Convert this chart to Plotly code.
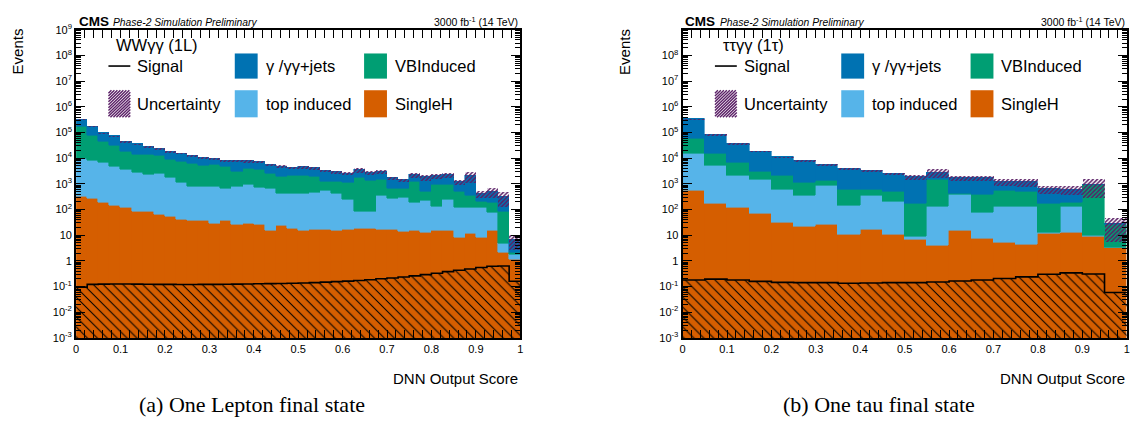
import numpy as np
import plotly.graph_objects as go

# ---------------- data: One Lepton final state (WWγγ 1L), 40 bins ----------------
n_bins_1l = 40
singleH_1l = [308, 274, 188, 141, 115, 79, 79, 64, 51, 40,
              36, 36, 27, 38, 25, 27, 26, 15, 23, 18.5,
              15, 16, 16, 15, 17, 18.5, 18.5, 16, 17, 14,
              15, 12, 15, 15, 8.2, 11, 8.2, 14.7, 2.0, 1.1]
topind_1l = [9100, 7900, 6500, 4400, 3300, 2700, 2100, 2300, 1700, 1030,
             766, 766, 775, 617, 732, 900, 709, 621, 389, 394,
             397, 433, 503, 397, 220, 60, 60, 320, 235, 277,
             173, 206, 118, 215, 114, 111, 114, 57, 2.6, 0.6]
vbind_1l = [153000, 64000, 36000, 27000, 15000, 11000, 11000, 10000, 6900, 6400,
            5300, 4200, 4500, 3900, 2200, 3000, 2700, 1900, 1500, 1600,
            1680, 1460, 650, 760, 833, 1580, 1230, 1090, 384, 364,
            1050, 272, 794, 697, 354, 214, 83, 116, 74, 0.3]
gjets_1l = [162000, 99000, 53000, 40000, 25000, 21000, 15000, 11000, 9200, 8000,
            6500, 5600, 4150, 3600, 4750, 3760, 3600, 3200, 2900, 2300,
            2350, 2280, 2060, 1790, 1490, 1760, 1480, 1530, 1020, 775,
            970, 1320, 1100, 1280, 694, 1690, 207, 302, 229, 4.7]
signal_1l = [0.095, 0.122, 0.124, 0.125, 0.125, 0.124, 0.123, 0.122, 0.121, 0.12,
             0.12, 0.121, 0.122, 0.123, 0.124, 0.126, 0.128, 0.13, 0.132, 0.135,
             0.138, 0.142, 0.148, 0.155, 0.162, 0.172, 0.185, 0.2, 0.215, 0.235,
             0.26, 0.29, 0.33, 0.38, 0.43, 0.48, 0.55, 0.62, 0.63, 0.16]
unc_rel_1l = [0.06, 0.06, 0.06, 0.06, 0.06, 0.06, 0.07, 0.07, 0.07, 0.08,
              0.08, 0.08, 0.08, 0.09, 0.1, 0.1, 0.1, 0.1, 0.11, 0.11,
              0.12, 0.12, 0.12, 0.13, 0.13, 0.2, 0.2, 0.15, 0.15, 0.13,
              0.22, 0.25, 0.25, 0.22, 0.18, 0.45, 0.3, 0.4, 0.6, 0.6]

# ---------------- data: One tau final state (ττγγ 1τ), 20 bins ----------------
n_bins_1t = 20
singleH_1t = [551, 173, 112, 68, 30, 21, 26, 10, 17, 10.7,
              6.7, 4.0, 15, 7.3, 5.0, 4.3, 11, 12, 9, 3.24]
topind_1t = [14000, 4800, 1920, 1360, 570, 315, 849, 131, 319, 188,
             2.3, 129, 351, 65, 128, 129, 1.7, 121, 0.5, 0.1]
vbind_1t = [42000, 9600, 4600, 1530, 1490, 804, 475, 442, 230, 277,
            154, 1300, 46, 316, 418, 343, 160, 55, 890, 21.4]
gjets_1t = [277000, 68000, 30000, 15400, 8800, 6800, 4250, 3370, 2660, 2080,
            1650, 1360, 1250, 1270, 689, 694, 463, 412, 50, 2.5]
signal_1t = [0.179, 0.195, 0.179, 0.159, 0.146, 0.142, 0.142, 0.134, 0.138, 0.142,
             0.142, 0.15, 0.164, 0.179, 0.206, 0.239, 0.30, 0.34, 0.31, 0.059]
unc_rel_1t = [0.07, 0.07, 0.07, 0.07, 0.07, 0.08, 0.08, 0.09, 0.1, 0.1,
              0.22, 0.38, 0.23, 0.23, 0.3, 0.33, 0.33, 0.38, 0.7, 0.8]

y_tick_exp = list(range(-3, 10))
y_tick_text = {-3: "10<sup>-3</sup>", -2: "10<sup>-2</sup>", -1: "10<sup>-1</sup>", 0: "1", 1: "10",
               2: "10<sup>2</sup>", 3: "10<sup>3</sup>", 4: "10<sup>4</sup>", 5: "10<sup>5</sup>",
               6: "10<sup>6</sup>", 7: "10<sup>7</sup>", 8: "10<sup>8</sup>", 9: "10<sup>9</sup>"}
x_tick_vals = [0, 0.1, 0.2, 0.3, 0.4, 0.5, 0.6, 0.7, 0.8, 0.9, 1.0]
x_tick_text = ["0", "0.1", "0.2", "0.3", "0.4", "0.5", "0.6", "0.7", "0.8", "0.9", "1"]

C_GJ = "#0072b2"
C_VB = "#009e73"
C_TOP = "#56b4e9"
C_SH = "#d55e00"
C_UNC = "#5a1f66"

W, H = 1136, 430
def px(x):
    return x / W
def py(y):
    return 1 - y / H

fig = go.Figure()

def add_panel(nb, sh, top, vb, gj, sig, unc, xa, ya, ya_sig, ya_unc):
    edges = np.linspace(0, 1, nb + 1)
    width = edges[1] - edges[0]
    centers = edges[:-1] + width / 2
    for vals, col in [(sh, C_SH), (top, C_TOP), (vb, C_VB), (gj, C_GJ)]:
        fig.add_trace(go.Bar(x=centers, y=vals, width=width, xaxis=xa, yaxis=ya,
                             marker=dict(color=col, line=dict(color=col, width=0.6))))
    total = np.array(sh) + np.array(top) + np.array(vb) + np.array(gj)
    u = np.array(unc)
    fig.add_trace(go.Bar(x=centers, y=2 * u * total, base=total * (1 - u), width=width,
                         xaxis=xa, yaxis=ya_unc,
                         marker=dict(color="rgba(0,0,0,0)", line=dict(width=0),
                                     pattern=dict(shape="/", fgcolor=C_UNC, fgopacity=1, size=3,
                                                  solidity=0.5, fillmode="overlay"))))
    fig.add_trace(go.Bar(x=centers, y=sig, width=width, xaxis=xa, yaxis=ya_sig,
                         marker=dict(color="rgba(0,0,0,0)", line=dict(width=0),
                                     pattern=dict(shape="\\", fgcolor="black", fgopacity=1, size=7,
                                                  solidity=0.15, fillmode="overlay"))))
    fig.add_trace(go.Scatter(x=edges, y=list(sig) + [sig[-1]], mode="lines", line_shape="hv",
                             xaxis=xa, yaxis=ya_sig, line=dict(color="black", width=1.6)))

add_panel(n_bins_1l, singleH_1l, topind_1l, vbind_1l, gjets_1l, signal_1l, unc_rel_1l,
          "x", "y", "y3", "y4")
add_panel(n_bins_1t, singleH_1t, topind_1t, vbind_1t, gjets_1t, signal_1t, unc_rel_1t,
          "x2", "y2", "y5", "y6")

ydom = [py(341), py(22.5)]
xdom1 = [px(73.5), px(520)]
off = 609.7
xdom2 = [px(73.5 + off), px(520 + off)]

minor_y = [m * 10.0 ** d for d in range(-3, 9) for m in range(2, 10)]
minor_x = [round(v, 3) for v in np.arange(0.02, 1.0, 0.02) if abs(v * 10 - round(v * 10)) > 1e-6]

def xaxis_cfg(dom, anchor):
    return dict(domain=dom, anchor=anchor, range=[0, 1], tickvals=x_tick_vals, ticktext=x_tick_text,
                ticks="inside", ticklen=8, tickwidth=1, tickcolor="black",
                minor=dict(tickvals=minor_x, ticks="inside", ticklen=4, tickwidth=1, tickcolor="black"),
                showline=True, linecolor="black", linewidth=2, mirror="allticks",
                showgrid=False, zeroline=False, tickfont=dict(size=11, color="black"))

def yaxis_cfg(anchor, exps):
    return dict(domain=ydom, anchor=anchor, type="log", range=[-3, 9],
                tickvals=[10.0 ** e for e in exps], ticktext=[y_tick_text[e] for e in exps],
                ticks="inside", ticklen=9, tickwidth=1, tickcolor="black",
                minor=dict(tickvals=minor_y, ticks="inside", ticklen=5, tickwidth=1, tickcolor="black"),
                showline=True, linecolor="black", linewidth=2, mirror="allticks",
                showgrid=False, zeroline=False, tickfont=dict(size=11, color="black"))

def overlay_cfg(base, anchor):
    return dict(overlaying=base, anchor=anchor, type="log", range=[-3, 9], visible=False,
                showgrid=False, zeroline=False)

fig.update_layout(
    width=W, height=H, margin=dict(l=0, r=0, t=0, b=0),
    paper_bgcolor="white", plot_bgcolor="white",
    barmode="stack", bargap=0, showlegend=False,
    font=dict(family="Liberation Sans, Arial, sans-serif", color="black"),
    xaxis=xaxis_cfg(xdom1, "y"), xaxis2=xaxis_cfg(xdom2, "y2"),
    yaxis=yaxis_cfg("x", y_tick_exp), yaxis2=yaxis_cfg("x2", y_tick_exp[:-1]),
    yaxis3=overlay_cfg("y", "x"), yaxis4=overlay_cfg("y", "x"),
    yaxis5=overlay_cfg("y2", "x2"), yaxis6=overlay_cfg("y2", "x2"),
)

shapes = []
annos = []

def txt(x, y, s, size, xanchor="left", **kw):
    annos.append(dict(x=px(x), y=py(y), xref="paper", yref="paper", text=s, showarrow=False,
                      xanchor=xanchor, yanchor="middle", font=dict(size=size, color="black", **kw)))

def rect(x0, y0, x1, y1, col):
    shapes.append(dict(type="rect", xref="paper", yref="paper", x0=px(x0), x1=px(x1),
                       y0=py(y1), y1=py(y0), fillcolor=col, line=dict(width=0)))

def hatch_box(x0, y0, x1, y1, step=3.0):
    Wb, Hb = x1 - x0, y1 - y0
    c = -Hb
    while c < Wb:
        us, ue = max(c, 0), min(Wb, Hb + c)
        if ue > us:
            shapes.append(dict(type="line", xref="paper", yref="paper",
                               x0=px(x0 + us), y0=py(y1 - (us - c)),
                               x1=px(x0 + ue), y1=py(y1 - (ue - c)),
                               line=dict(color=C_UNC, width=1.4)))
        c += step

captions = ["(a) One Lepton final state", "(b) One tau final state"]
headers = ["WWγγ (1L)", "ττγγ (1τ)"]
for i, o in enumerate([0, off]):
    txt(74 + o, 14, "<b>CMS</b>", 13.5)
    txt(109 + o, 15, "<i>Phase-2 Simulation Preliminary</i>", 10.3)
    txt(520 + o, 14, "3000 fb<sup>-1</sup> (14 TeV)", 10.5, xanchor="right")
    annos.append(dict(x=px(15 + o), y=py(45), xref="paper", yref="paper", text="Events",
                      showarrow=False, textangle=-90, xanchor="center", yanchor="middle",
                      font=dict(size=15, color="black")))
    txt(520 + o, 383, "DNN Output Score", 15, xanchor="right")
    annos.append(dict(x=px(250 + o * 1.035), y=py(410), xref="paper", yref="paper", text=captions[i],
                      showarrow=False, xanchor="center", yanchor="middle",
                      font=dict(size=22, color="black", family="Liberation Serif, Times New Roman, serif")))
    txt(112 + o, 38, headers[i], 16.5)
    shapes.append(dict(type="line", xref="paper", yref="paper", x0=px(106 + o), x1=px(128 + o),
                       y0=py(60), y1=py(60), line=dict(color="black", width=1.6)))
    txt(133 + o, 60, "Signal", 16.5)
    rect(233 + o, 47, 256 + o, 73, C_GJ)
    txt(262 + o, 60, "γ /γγ+jets", 16.5)
    rect(363 + o, 47, 386 + o, 73, C_VB)
    txt(392 + o, 60, "VBInduced", 16.5)
    hatch_box(106 + o, 85, 128 + o, 113)
    txt(133 + o, 99, "Uncertainty", 16.5)
    rect(233 + o, 85, 256 + o, 113, C_TOP)
    txt(262 + o, 99, "top induced", 16.5)
    rect(363 + o, 85, 386 + o, 113, C_SH)
    txt(392 + o, 99, "SingleH", 16.5)

fig.update_layout(shapes=shapes, annotations=annos)
fig.write_html("out.html", config={"displayModeBar": False},
               post_script="document.body.style.margin='0';document.body.style.overflow='hidden';")
